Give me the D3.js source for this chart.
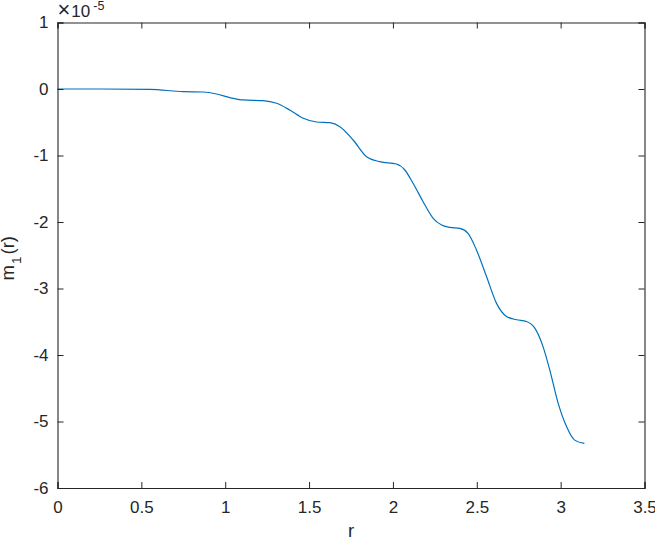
<!DOCTYPE html>
<html lang="en">
  <head>
    <meta charset="utf-8">
    <title>m1(r)</title>
    <script src="https://d3js.org/d3.v7.js"></script>
    <style>
      body { margin: 0; background: #fff; }
      text { font-family: "Liberation Sans", Arial, sans-serif; fill: #262626; }
    </style>
  </head>
  <body>
    <script>

  // width and height
  var w = 655;
  var h = 539;
  var margin = {top: 22.5, right: 10.5, bottom: 51, left: 57.5};
  var innerWidth = w - margin.left - margin.right;
  var innerHeight = h - margin.top - margin.bottom;

  // data (y in units of 1e-5)
  var rValues = [0, 0.253, 0.551, 0.750, 0.869, 0.949, 1.028, 1.107, 1.226, 1.306, 1.385, 1.465,
                 1.545, 1.624, 1.684, 1.763, 1.843, 1.922, 2.021, 2.071, 2.120, 2.180, 2.240,
                 2.290, 2.339, 2.399, 2.448, 2.498, 2.558, 2.617, 2.677, 2.737, 2.796, 2.846,
                 2.895, 2.935, 2.985, 3.035, 3.084, 3.1416];
  var m1Values = [0, 0, -0.005, -0.04, -0.045, -0.075, -0.13, -0.165, -0.175, -0.215, -0.316, -0.44,
                  -0.496, -0.507, -0.567, -0.767, -1.018, -1.093, -1.128, -1.218, -1.418, -1.695, -1.945,
                  -2.045, -2.08, -2.095, -2.17, -2.42, -2.82, -3.22, -3.42, -3.47, -3.497, -3.597,
                  -3.874, -4.224, -4.724, -5.075, -5.28, -5.33];
  var xTicks = [0, 0.5, 1, 1.5, 2, 2.5, 3, 3.5];
  var yTicks = [-6, -5, -4, -3, -2, -1, 0, 1];

  var points = rValues.map((r, i) => [r, m1Values[i]]);

  var xScale = d3.scaleLinear().domain([0, 3.5]).range([0, innerWidth]);
  var yScale = d3.scaleLinear().domain([-6, 1]).range([innerHeight, 0]);

  var svg = d3.select("body")
    .append("svg")
    .attr("width", w)
    .attr("height", h);

  var g = svg.append("g")
    .attr("transform", `translate (${margin.left}, ${margin.top})`);

  var axisColor = "#262626";
  var tickLen = 6;
  // plain hyphen for negatives, like the original
  var fmt = d => String(d);

  // the data line
  var line = d3.line()
    .x(d => xScale(d[0]))
    .y(d => yScale(d[1]))
    .curve(d3.curveMonotoneX);

  g.append("path")
    .datum(points)
    .attr("fill", "none")
    .attr("stroke", "#0072BD")
    .attr("stroke-width", 1.2)
    .attr("d", line);

  // axes (ticks point inward, box on all sides)
  var xAxis = d3.axisBottom(xScale).tickValues(xTicks).tickSize(-tickLen).tickPadding(12.5).tickFormat(fmt);
  var yAxis = d3.axisLeft(yScale).tickValues(yTicks).tickSize(-tickLen).tickPadding(9).tickFormat(fmt);
  var xTop = d3.axisTop(xScale).tickValues(xTicks).tickSize(-tickLen).tickFormat("");
  var yRight = d3.axisRight(yScale).tickValues(yTicks).tickSize(-tickLen).tickFormat("");

  function styleAxis(sel) {
    sel.selectAll("path").attr("stroke", axisColor);
    sel.selectAll("line").attr("stroke", axisColor);
    sel.selectAll("text").attr("fill", axisColor)
      .style("font-family", '"Liberation Sans", Arial, sans-serif')
      .style("font-size", "17px");
  }

  g.append("g").attr("transform", `translate (0, ${innerHeight})`).call(xAxis).call(styleAxis);
  g.append("g").call(yAxis).call(styleAxis);
  g.append("g").call(xTop).call(styleAxis);
  g.append("g").attr("transform", `translate (${innerWidth}, 0)`).call(yRight).call(styleAxis);
  g.selectAll(".domain").attr("stroke-width", 1.1);

  // exponent label
  var expo = svg.append("text")
    .attr("x", margin.left)
    .attr("y", 16.7)
    .style("font-size", "17px");
  expo.append("tspan").style("font-size", "22px").text("\u00d7");
  expo.append("tspan").attr("dx", 1).text("10");
  expo.append("tspan").attr("dx", 3).attr("dy", -7).style("font-size", "12.5px").text("-5");

  // axis labels
  svg.append("text")
    .attr("x", margin.left + innerWidth / 2)
    .attr("y", h - 2)
    .attr("text-anchor", "middle")
    .style("font-size", "18.5px")
    .text("r");

  var yl = svg.append("text")
    .attr("transform", `translate (14, ${margin.top + innerHeight / 2 + 3}) rotate(-90)`)
    .attr("text-anchor", "middle")
    .style("font-size", "18.5px");
  yl.append("tspan").text("m");
  yl.append("tspan").attr("dx", 1).attr("dy", 7).style("font-size", "13.5px").text("1");
  yl.append("tspan").attr("dx", 2).attr("dy", -7).text("(r)");

    </script>
  </body>
</html>
